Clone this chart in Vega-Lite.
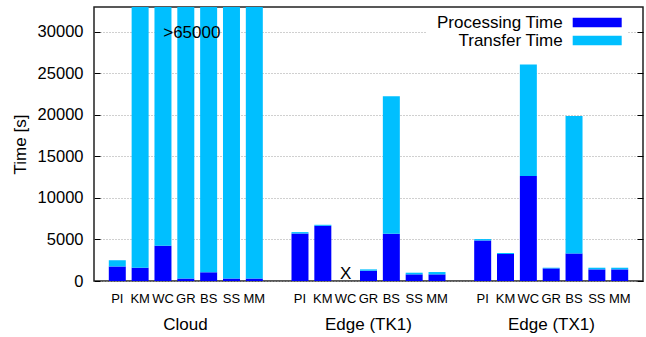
{
  "$schema": "https://vega.github.io/schema/vega-lite/v6.json",
  "width": 549,
  "height": 274,
  "autosize": {"type": "none"},
  "padding": {"left": 94, "top": 7, "right": 3, "bottom": 56},
  "config": {
    "font": "Liberation Sans",
    "view": {"stroke": "#222", "strokeWidth": 1.5},
    "axis": {"labelColor": "#000", "titleColor": "#000", "tickColor": "#000", "domainColor": "#000", "labelFont": "Liberation Sans", "titleFont": "Liberation Sans"},
    "legend": {"labelFont": "Liberation Sans", "labelColor": "#000"},
    "text": {"font": "Liberation Sans", "color": "#000"}
  },
  "layer": [
    {
      "data": {
        "values": [
          {"group": "Cloud", "app": "PI", "bar": "Cloud|PI", "Processing Time": 1750, "Transfer Time": 750},
          {"group": "Cloud", "app": "KM", "bar": "Cloud|KM", "Processing Time": 1600, "Transfer Time": 64400},
          {"group": "Cloud", "app": "WC", "bar": "Cloud|WC", "Processing Time": 4250, "Transfer Time": 61750},
          {"group": "Cloud", "app": "GR", "bar": "Cloud|GR", "Processing Time": 300, "Transfer Time": 65700},
          {"group": "Cloud", "app": "BS", "bar": "Cloud|BS", "Processing Time": 1050, "Transfer Time": 64950},
          {"group": "Cloud", "app": "SS", "bar": "Cloud|SS", "Processing Time": 300, "Transfer Time": 65700},
          {"group": "Cloud", "app": "MM", "bar": "Cloud|MM", "Processing Time": 300, "Transfer Time": 65700},
          {"group": "Edge (TK1)", "app": "PI", "bar": "Edge (TK1)|PI", "Processing Time": 5720, "Transfer Time": 170},
          {"group": "Edge (TK1)", "app": "KM", "bar": "Edge (TK1)|KM", "Processing Time": 6650, "Transfer Time": 120},
          {"group": "Edge (TK1)", "app": "GR", "bar": "Edge (TK1)|GR", "Processing Time": 1240, "Transfer Time": 160},
          {"group": "Edge (TK1)", "app": "BS", "bar": "Edge (TK1)|BS", "Processing Time": 5690, "Transfer Time": 16550},
          {"group": "Edge (TK1)", "app": "SS", "bar": "Edge (TK1)|SS", "Processing Time": 800, "Transfer Time": 200},
          {"group": "Edge (TK1)", "app": "MM", "bar": "Edge (TK1)|MM", "Processing Time": 800, "Transfer Time": 280},
          {"group": "Edge (TX1)", "app": "PI", "bar": "Edge (TX1)|PI", "Processing Time": 4880, "Transfer Time": 170},
          {"group": "Edge (TX1)", "app": "KM", "bar": "Edge (TX1)|KM", "Processing Time": 3250, "Transfer Time": 120},
          {"group": "Edge (TX1)", "app": "WC", "bar": "Edge (TX1)|WC", "Processing Time": 12660, "Transfer Time": 13420},
          {"group": "Edge (TX1)", "app": "GR", "bar": "Edge (TX1)|GR", "Processing Time": 1520, "Transfer Time": 80},
          {"group": "Edge (TX1)", "app": "BS", "bar": "Edge (TX1)|BS", "Processing Time": 3320, "Transfer Time": 16550},
          {"group": "Edge (TX1)", "app": "SS", "bar": "Edge (TX1)|SS", "Processing Time": 1400, "Transfer Time": 200},
          {"group": "Edge (TX1)", "app": "MM", "bar": "Edge (TX1)|MM", "Processing Time": 1400, "Transfer Time": 200}
        ]
      },
      "transform": [{"fold": ["Processing Time", "Transfer Time"], "as": ["type", "time"]}],
      "mark": {"type": "bar", "clip": true},
      "encoding": {
        "x": {
          "field": "bar", "type": "nominal",
          "scale": {"type": "band", "domain": ["Cloud|PI","Cloud|KM","Cloud|WC","Cloud|GR","Cloud|BS","Cloud|SS","Cloud|MM","g1|","Edge (TK1)|PI","Edge (TK1)|KM","Edge (TK1)|WC","Edge (TK1)|GR","Edge (TK1)|BS","Edge (TK1)|SS","Edge (TK1)|MM","g2|","Edge (TX1)|PI","Edge (TX1)|KM","Edge (TX1)|WC","Edge (TX1)|GR","Edge (TX1)|BS","Edge (TX1)|SS","Edge (TX1)|MM"], "paddingInner": 0.256, "paddingOuter": 0.648},
          "axis": {"orient": "bottom", "title": null, "labelExpr": "split(datum.value, '|')[1]", "labelFontSize": 13, "labelPadding": 11, "ticks": false, "domain": false, "labelAngle": 0, "labelOverlap": false, "grid": false}
        },
        "y": {
          "field": "time", "type": "quantitative", "stack": "zero",
          "scale": {"domain": [0, 33000], "nice": false},
          "axis": {"orient": "left", "title": "Time [s]", "values": [0, 5000, 10000, 15000, 20000, 25000, 30000], "format": "d", "tickSize": -6, "labelPadding": 17, "grid": true, "gridDash": [1, 2], "gridColor": "#a0a0a0", "gridWidth": 1, "domain": false, "titleFontSize": 17, "titleFontWeight": "normal", "labelFontSize": 16.5, "titlePadding": 8}
        },
        "color": {
          "field": "type", "type": "nominal",
          "scale": {"domain": ["Processing Time", "Transfer Time"], "range": ["#0000ff", "#00bfff"]},
          "legend": {"orient": "none", "legendX": 332.7, "legendY": 1, "title": null, "direction": "vertical", "labelFontSize": 17, "labelAlign": "right", "labelOffset": -43, "symbolOffset": 156, "symbolType": "M-2.882,-0.547H2.882V0.547H-2.882Z", "symbolSize": 289, "symbolStrokeWidth": 0, "symbolOpacity": 1, "rowPadding": 0, "fillColor": "white", "padding": 6, "labelLimit": 300}
        },
        "order": {"field": "type", "sort": "ascending"}
      }
    },
    {
      "layer": [
        {
          "data": {"values": [{"bar": "Cloud|GR", "note": ">65000"}]},
          "mark": {"type": "text", "fontSize": 17, "baseline": "middle", "dx": 6, "dy": 1},
          "encoding": {
            "x": {"field": "bar", "type": "nominal", "scale": {"type": "band", "domain": ["Cloud|PI","Cloud|KM","Cloud|WC","Cloud|GR","Cloud|BS","Cloud|SS","Cloud|MM","g1|","Edge (TK1)|PI","Edge (TK1)|KM","Edge (TK1)|WC","Edge (TK1)|GR","Edge (TK1)|BS","Edge (TK1)|SS","Edge (TK1)|MM","g2|","Edge (TX1)|PI","Edge (TX1)|KM","Edge (TX1)|WC","Edge (TX1)|GR","Edge (TX1)|BS","Edge (TX1)|SS","Edge (TX1)|MM"], "paddingInner": 0.256, "paddingOuter": 0.648}, "axis": null},
            "y": {"datum": 30000, "type": "quantitative", "axis": {"orient": "right", "title": null, "labels": false, "values": [0, 5000, 10000, 15000, 20000, 25000, 30000], "tickSize": -6, "grid": false, "domain": false}},
            "text": {"field": "note"}
          }
        },
        {
          "data": {"values": [{"bar": "Edge (TK1)|WC", "note": "X"}]},
          "mark": {"type": "text", "fontSize": 17, "baseline": "alphabetic", "dy": -2},
          "encoding": {
            "x": {"field": "bar", "type": "nominal", "scale": {"type": "band", "domain": ["Cloud|PI","Cloud|KM","Cloud|WC","Cloud|GR","Cloud|BS","Cloud|SS","Cloud|MM","g1|","Edge (TK1)|PI","Edge (TK1)|KM","Edge (TK1)|WC","Edge (TK1)|GR","Edge (TK1)|BS","Edge (TK1)|SS","Edge (TK1)|MM","g2|","Edge (TX1)|PI","Edge (TX1)|KM","Edge (TX1)|WC","Edge (TX1)|GR","Edge (TX1)|BS","Edge (TX1)|SS","Edge (TX1)|MM"], "paddingInner": 0.256, "paddingOuter": 0.648}, "axis": null},
            "y": {"datum": 0, "type": "quantitative"},
            "text": {"field": "note"}
          }
        }
      ]
    },
    {
      "data": {"values": [{"group": "Cloud"}, {"group": "Edge (TK1)"}, {"group": "Edge (TX1)"}]},
      "mark": {"type": "text", "text": ""},
      "encoding": {
        "x": {"field": "group", "type": "nominal", "scale": {"type": "band", "domain": ["Cloud", "Edge (TK1)", "Edge (TX1)"], "paddingInner": 0, "paddingOuter": 0}, "axis": {"orient": "bottom", "title": null, "ticks": false, "domain": false, "labelPadding": 35, "labelFontSize": 17, "labelAngle": 0, "grid": false}}
      }
    }
  ],
  "resolve": {"scale": {"x": "independent", "y": "shared"}, "axis": {"x": "independent", "y": "independent"}}
}
